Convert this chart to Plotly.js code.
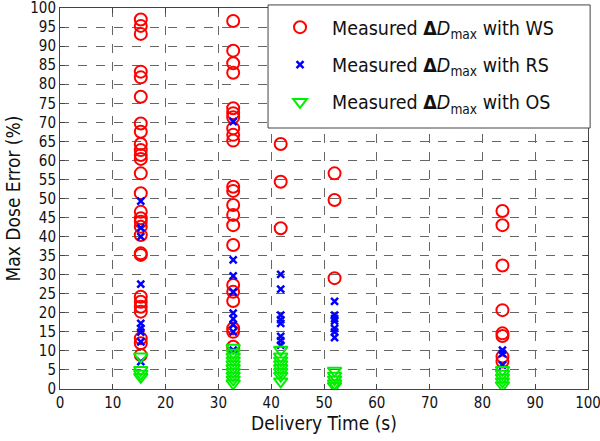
<!DOCTYPE html>
<html>
<head>
<meta charset="utf-8">
<script src="https://cdn.plot.ly/plotly-3.0.1.min.js"></script>
<style>html,body{margin:0;padding:0;background:#fff;}#chart{width:600px;height:441px;}</style>
</head>
<body>
<div id="chart"></div>
<script>
// Delivery times (s) of the five plans
const deliveryTimes = [15.3, 32.8, 41.8, 52.0, 83.8];

// Measured max dose error (%) with WS, per plan
const wsErr1 = [97.0, 95.3, 93.2, 83.3, 81.8, 76.7, 69.7, 67.5, 64.3, 62.7, 61.4, 60.4, 56.6, 51.4, 46.5, 44.8, 43.9, 42.6, 40.4, 35.2, 35.6, 24.2, 22.9, 21.6, 20.3, 13.3, 12.0, 8.9];
const wsErr2 = [96.6, 88.8, 85.5, 83.0, 73.7, 72.4, 71.3, 68.4, 66.7, 65.2, 53.1, 52.0, 48.3, 45.7, 43.0, 37.8, 27.3, 25.5, 23.1, 15.9, 15.0, 11.1];
const wsErr3 = [64.3, 54.4, 42.2];
const wsErr4 = [56.6, 49.6, 29.1];
const wsErr5 = [46.7, 43.0, 32.4, 20.7, 14.6, 13.9, 8.5, 7.2];

// Measured max dose error (%) with RS, per plan
const rsErr1 = [49.3, 42.3, 40.0, 27.5, 17.2, 15.9, 14.9, 12.4, 7.2];
const rsErr2 = [70.2, 33.9, 29.7, 25.5, 19.9, 18.4, 16.8, 15.0, 10.2];
const rsErr3 = [30.1, 26.2, 19.4, 18.2, 17.2, 13.8, 12.7, 11.5];
const rsErr4 = [23.0, 19.4, 18.5, 17.8, 15.9, 15.0, 13.5];
const rsErr5 = [10.2, 9.3, 6.3];

// Measured max dose error (%) with OS, per plan
const osErr1 = [8.5, 5.0, 4.0, 3.2];
const osErr2 = [10.8, 9.5, 8.5, 7.5, 6.5, 5.5, 4.5, 3.5, 2.5, 1.5];
const osErr3 = [10.3, 8.5, 7.5, 6.5, 5.5, 4.5, 3.5, 2.0];
const osErr4 = [4.8, 3.5, 2.5, 1.5, 0.8];
const osErr5 = [5.0, 4.0, 3.0, 2.0, 1.0];

const seriesNames = [
  'Measured <b>Δ</b><i>D</i><sub>max</sub> with WS',
  'Measured <b>Δ</b><i>D</i><sub>max</sub> with RS',
  'Measured <b>Δ</b><i>D</i><sub>max</sub> with OS'
];
const xTicks = [0,10,20,30,40,50,60,70,80,90,100];
const yTicks = [0,5,10,15,20,25,30,35,40,45,50,55,60,65,70,75,80,85,90,95,100];

function build(cols) {
  const x = [], y = [];
  cols.forEach((vals, i) => vals.forEach(v => { x.push(deliveryTimes[i]); y.push(v); }));
  return {x, y};
}
const ws = build([wsErr1, wsErr2, wsErr3, wsErr4, wsErr5]);
const rs = build([rsErr1, rsErr2, rsErr3, rsErr4, rsErr5]);
const os = build([osErr1, osErr2, osErr3, osErr4, osErr5]);

const FONT = '"DejaVu Sans Condensed", "Liberation Sans Narrow", "DejaVu Sans", sans-serif';

const traces = [
  {x: ws.x, y: ws.y, name: seriesNames[0], type: 'scatter', mode: 'markers', legendgroup: 'a',
   marker: {symbol: 'circle-open', size: 12, color: '#ff0000', line: {width: 2, color: '#ff0000'}}},
  {x: rs.x, y: rs.y, name: seriesNames[1], type: 'scatter', mode: 'markers', legendgroup: 'b',
   marker: {symbol: 'x-thin-open', size: 7, color: '#0000ff', line: {width: 2.5, color: '#0000ff'}}},
  {x: os.x, y: os.y, name: seriesNames[2], type: 'scatter', mode: 'markers', legendgroup: 'c',
   marker: {symbol: 'triangle-down-open', size: 12, color: '#00ee00', line: {width: 2, color: '#00ee00'}}}
];

const axisCommon = {
  showline: true, linecolor: '#444', linewidth: 1, mirror: 'ticks',
  ticks: 'inside', ticklen: 5, tickcolor: '#444',
  showgrid: true, gridcolor: '#666', griddash: 'dash', gridwidth: 1,
  zeroline: false, tickfont: {family: FONT, size: 15, color: '#111'},
  ticklabeloverflow: 'allow'
};

const layout = {
  width: 600, height: 441,
  margin: {l: 60, r: 12, t: 8, b: 52},
  paper_bgcolor: '#fff', plot_bgcolor: '#fff',
  font: {family: FONT, color: '#111'},
  showlegend: true,
  xaxis: Object.assign({}, axisCommon, {
    range: [0, 100], tickvals: xTicks, ticktext: xTicks.map(String),
    title: {text: 'Delivery Time (s)', font: {family: FONT, size: 19}, standoff: 2}
  }),
  yaxis: Object.assign({}, axisCommon, {
    range: [0, 100], tickvals: yTicks, ticktext: yTicks.map(String),
    title: {text: 'Max Dose Error (%)', font: {family: FONT, size: 19}, standoff: 4}
  }),
  shapes: [{
    type: 'rect', xref: 'paper', yref: 'paper', layer: 'above',
    x0: 0.394, x1: 1.004, y0: 0.685, y1: 1.008,
    fillcolor: '#ffffff', line: {color: '#444', width: 1}
  }],
  legend: {
    x: 0.394, y: 1.0, xanchor: 'left', yanchor: 'top',
    bgcolor: 'rgba(0,0,0,0)', borderwidth: 0,
    font: {family: FONT, size: 19.5, color: '#111'},
    tracegroupgap: 9, itemwidth: 54
  }
};

Plotly.newPlot('chart', traces, layout, {staticPlot: true});
</script>
</body>
</html>
